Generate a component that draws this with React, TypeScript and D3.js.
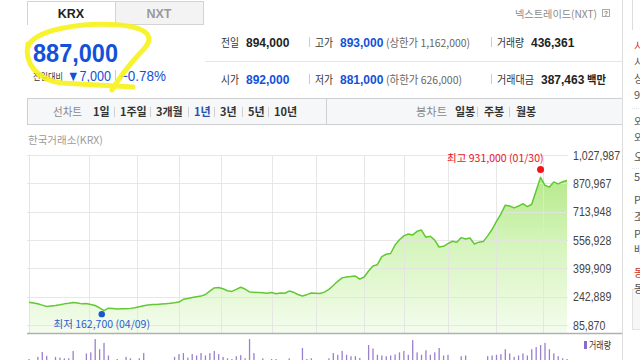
import React from "react";
import * as d3 from "d3";

// ---------- data ----------
// Closing prices (thousand KRW), one reading every 2 trading days, 1-year chart
const closeK = [
  212, 208, 204, 196, 188, 191, 194, 198, 203, 206,
  210, 208, 203, 205, 200, 194, 181, 166, 179, 177,
  175, 176, 176, 178, 181, 187, 192, 197, 199, 200,
  202, 204, 206, 209, 213, 228, 233, 238, 243, 246,
  255, 274, 291, 294, 287, 276, 272, 283, 295, 285,
  269, 267, 266, 264, 262, 266, 259, 263, 262, 274,
  267, 255, 247, 254, 263, 262, 260, 268, 283, 305,
  328, 347, 352, 354, 357, 340, 352, 385, 413, 420,
  465, 478, 482, 529, 558, 580, 590, 585, 605, 612,
  572, 578, 556, 518, 522, 537, 550, 545, 570, 562,
  568, 535, 545, 548, 580, 615, 660, 700, 750, 745,
  735, 745, 758, 742, 755, 830, 904, 860, 850, 878,
  868, 880, 887,
];
// Volume (10k shares), same sampling
const volume = [
  600, 560, 660, 800, 690, 560, 660, 640, 620, 620,
  830, 540, 540, 760, 790, 1170, 880, 1060, 700, 560,
  600, 560, 660, 620, 560, 620, 770, 560, 540, 540,
  540, 540, 560, 660, 740, 770, 640, 740, 700, 770,
  700, 770, 830, 740, 660, 620, 600, 680, 710, 620,
  1170, 770, 560, 620, 560, 600, 600, 560, 540, 620,
  540, 560, 915, 600, 620, 560, 560, 540, 620, 770,
  720, 830, 720, 680, 680, 630, 560, 1000, 900, 720,
  700, 680, 700, 730, 790, 830, 720, 1140, 790, 720,
  850, 720, 790, 915, 700, 720, 560, 540, 680, 700,
  560, 540, 540, 540, 680, 700, 720, 740, 880, 760,
  660, 700, 760, 700, 880, 940, 1000, 1060, 880, 760,
  680, 620, 600,
];
const SAMPLE_STEP = 2; // trading days between readings
const TOTAL_DAYS = 245;
// trading-day index where each month begins (grid lines)
const monthLabels = ["2025-04", "2025-05", "2025-06", "2025-07", "2025-08", "2025-09", "2025-10", "2025-11", "2025-12", "2026-01", "2026-02"];
const monthStartDay = [27, 49, 68, 87, 110, 130, 152, 170, 190, 212, 233];
const yTickValues = [85870, 242889, 399909, 556928, 713948, 870967, 1027987];
const yDomain = [85870, 1027987];

const lowPoint = { day: 33, value: 162700, date: "04/09" };
const highPoint = { day: 232, value: 931000, date: "01/30" };

const navLeft = ["1일", "1주일", "3개월", "1년", "3년", "5년", "10년"];
const navLeftX = [93, 120, 156, 194, 220, 248, 274];
const navRight = ["일봉", "주봉", "월봉"];
const navRightX = [455, 484, 516];

const sideChars = [
  { y: 50, t: "시", c: "#d0322b" },
  { y: 66, t: "시" },
  { y: 83, t: "상" },
  { y: 99, t: "9" },
  { y: 126, t: "외" },
  { y: 142, t: "외" },
  { y: 161, t: "오" },
  { y: 181, t: "5" },
  { y: 204, t: "P" },
  { y: 221, t: "조" },
  { y: 238, t: "P" },
  { y: 254, t: "배" },
  { y: 277, t: "동", c: "#d0322b" },
  { y: 293, t: "동" },
];

const LATIN = "'Liberation Sans', Arial, 'Noto Sans CJK KR', sans-serif";
const KR = "'Noto Sans CJK KR', 'Liberation Sans', sans-serif";
const BLUE = "#1351d8";

export default function App() {
  const x = d3.scaleLinear().domain([0, TOTAL_DAYS - 1]).range([29, 567]);
  const y = d3.scaleLinear().domain(yDomain).range([325, 155]);
  const yVol = d3.scaleLinear().domain([0, 1200]).range([380, 338]);
  const fmt = d3.format(",");
  const labelLen = (s: string) =>
    s.split("").reduce((a, ch) => a + (ch === "," ? 2.9 : 5.9), 0);

  const pts = closeK.map((c, k) => ({ day: k * SAMPLE_STEP, v: c * 1000 }));
  const line = d3.line<{ day: number; v: number }>().x((d) => x(d.day)).y((d) => y(d.v));
  const area = d3
    .area<{ day: number; v: number }>()
    .x((d) => x(d.day))
    .y0(333)
    .y1((d) => y(d.v));

  const lowX = x(lowPoint.day);
  const highX = x(highPoint.day);

  return (
    <svg
      width={640}
      height={360}
      viewBox="0 0 640 360"
      style={{ position: "fixed", left: 0, top: 0, background: "#fff" }}
    >
      <defs>
        <linearGradient id="gfill" gradientUnits="userSpaceOnUse" x1="0" y1="160" x2="0" y2="333">
          <stop offset="0" stopColor="#aee67f" />
          <stop offset="0.5" stopColor="#d6f5bd" />
          <stop offset="1" stopColor="#f4fcee" />
        </linearGradient>
        <clipPath id="clipAll">
          <rect x="0" y="0" width="640" height="360" />
        </clipPath>
      </defs>
      <rect x="0" y="0" width="640" height="360" fill="#fff" />

      {/* Tabs */}
      <rect x="115.5" y="1.5" width="88" height="23" fill="#f3f3f3" stroke="#d3d3d3" />
      <path d="M27.5 25 V1.5 H115.5 V25" fill="#fff" stroke="#d3d3d3" />
      <text x="71" y="17.5" textAnchor="middle" fontFamily={LATIN} fontWeight="bold" fontSize="12.5" fill="#222">KRX</text>
      <text x="159" y="17.5" textAnchor="middle" fontFamily={LATIN} fontWeight="bold" fontSize="12.5" fill="#9a9a9a">NXT</text>

      {/* Price */}
      <text x="33" y="62" fontFamily={LATIN} fontWeight="bold" fontSize="26" fill={BLUE} textLength="85" lengthAdjust="spacingAndGlyphs">887,000</text>
      <text x="33" y="80" fontFamily={KR} fontSize="9.5" fill="#333" textLength="30" lengthAdjust="spacingAndGlyphs">전일대비</text>
      <text x="67" y="81" fontFamily={LATIN} fontSize="14.5" fill={BLUE} textLength="44" lengthAdjust="spacingAndGlyphs">▼7,000</text>
      <line x1="115.5" y1="70" x2="115.5" y2="80" stroke="#ccc" />
      <text x="120" y="81" fontFamily={LATIN} fontSize="14.5" fill={BLUE} textLength="46" lengthAdjust="spacingAndGlyphs">−0.78%</text>

      {/* yellow highlighter */}
      <path
        d="M28 47 C33 30, 80 22, 120 25 C150 28, 156 38, 141 52 C129 65, 119 78, 112 90 M28 44 C24 62, 36 80, 62 83 L133 87"
        fill="none"
        stroke="#f7f21a"
        strokeWidth="5"
        strokeLinecap="round"
        strokeLinejoin="round"
        opacity="0.9"
      />

      {/* NXT note */}
      <text x="515" y="18" fontFamily={KR} fontSize="10.5" fill="#8a8a8a" textLength="82" lengthAdjust="spacingAndGlyphs">넥스트레이드(NXT)</text>
      <rect x="602.5" y="9.5" width="7" height="7" fill="#fff" stroke="#aaa" />
      <text x="606" y="15.5" textAnchor="middle" fontFamily={LATIN} fontSize="7" fontWeight="bold" fill="#888">?</text>

      {/* Info table */}
      <line x1="205" y1="61.5" x2="622" y2="61.5" stroke="#e6e6e6" />
      {[
        { yy: 47, l1: "전일", v1: "894,000", c1: "#222", l2: "고가", v2: "893,000", p: "(상한가 1,162,000)", l3: "거래량", v3: "436,361", unit: "" },
        { yy: 84, l1: "시가", v1: "892,000", c1: BLUE, l2: "저가", v2: "881,000", p: "(하한가 626,000)", l3: "거래대금", v3: "387,463", unit: "백만" },
      ].map((r, i) => (
        <g key={i}>
          <text x="221" y={r.yy} fontFamily={KR} fontSize="11.5" fill="#333" textLength="18" lengthAdjust="spacingAndGlyphs">{r.l1}</text>
          <text x="246" y={r.yy} fontFamily={LATIN} fontWeight="bold" fontSize="12" fill={r.c1}>{r.v1}</text>
          <line x1="309.5" y1={r.yy - 10} x2="309.5" y2={r.yy} stroke="#ccc" />
          <text x="315" y={r.yy} fontFamily={KR} fontSize="11.5" fill="#333" textLength="18" lengthAdjust="spacingAndGlyphs">{r.l2}</text>
          <text x="340" y={r.yy} fontFamily={LATIN} fontWeight="bold" fontSize="12" fill={BLUE}>{r.v2}</text>
          <text x="386" y={r.yy} fontFamily={KR} fontSize="11" fill="#666" textLength={i === 0 ? 84 : 76} lengthAdjust="spacingAndGlyphs">{r.p}</text>
          <line x1="491.5" y1={r.yy - 10} x2="491.5" y2={r.yy} stroke="#ccc" />
          <text x="497" y={r.yy} fontFamily={KR} fontSize="11.5" fill="#333" textLength={i === 0 ? 27 : 37} lengthAdjust="spacingAndGlyphs">{r.l3}</text>
          <text x={i === 0 ? 531 : 541} y={r.yy} fontFamily={LATIN} fontWeight="bold" fontSize="12" fill="#222">{r.v3}</text>
          {r.unit && (
            <text x="587" y={r.yy} fontFamily={KR} fontWeight="bold" fontSize="11" fill="#222" textLength="19" lengthAdjust="spacingAndGlyphs">{r.unit}</text>
          )}
        </g>
      ))}

      {/* Nav bar */}
      <rect x="27.5" y="98.5" width="595" height="26" fill="#f6f7f8" stroke="#cfcfcf" />
      <line x1="326.5" y1="98.5" x2="326.5" y2="124.5" stroke="#cfcfcf" />
      <text x="53" y="116" fontFamily={KR} fontSize="11" fill="#888" textLength="29" lengthAdjust="spacingAndGlyphs">선차트</text>
      {navLeft.map((t, i) => (
        <g key={t}>
          <text x={navLeftX[i]} y="116" fontFamily={KR} fontSize="11" fontWeight="bold" fill={t === "1년" ? "#2a4fb0" : "#333"}>{t}</text>
          {i > 0 && <line x1={navLeftX[i] - 5.5} y1="107" x2={navLeftX[i] - 5.5} y2="117" stroke="#d0d0d0" />}
        </g>
      ))}
      <text x="416" y="116" fontFamily={KR} fontSize="11" fill="#888" textLength="31" lengthAdjust="spacingAndGlyphs">봉차트</text>
      {navRight.map((t, i) => (
        <g key={t}>
          <text x={navRightX[i]} y="116" fontFamily={KR} fontSize="11" fontWeight="bold" fill="#333">{t}</text>
          {i > 0 && <line x1={navRightX[i] - 6.5} y1="107" x2={navRightX[i] - 6.5} y2="117" stroke="#d0d0d0" />}
        </g>
      ))}

      <text x="28" y="144" fontFamily={KR} fontSize="10.5" fill="#9a9a9a">한국거래소(KRX)</text>

      {/* Area + line */}
      <path d={area(pts) || ""} fill="url(#gfill)" />

      {/* grid */}
      {yTickValues.map((v) => (
        <line key={v} x1="27" x2="568" y1={Math.round(y(v)) + 0.5} y2={Math.round(y(v)) + 0.5} stroke="#e3e3e3" strokeOpacity="0.85" />
      ))}
      <line x1="29.5" x2="29.5" y1="155" y2="333" stroke="#e3e3e3" />
      {monthStartDay.map((d, i) => (
        <line key={monthLabels[i]} x1={Math.round(x(d)) + 0.5} x2={Math.round(x(d)) + 0.5} y1="155" y2="333" stroke="#e3e3e3" strokeOpacity="0.85" />
      ))}

      <path d={line(pts) || ""} fill="none" stroke="#62c834" strokeWidth="1.5" strokeLinejoin="round" />

      {/* y labels */}
      {yTickValues.map((v) => (
        <text key={v} x="573" y={y(v) + 4.5} fontFamily={LATIN} fontSize="12" fill="#444" textLength={labelLen(fmt(v))} lengthAdjust="spacingAndGlyphs">{fmt(v)}</text>
      ))}

      {/* high / low */}
      <circle cx={highX} cy={y(highPoint.value) - 3} r="3.5" fill="#f0141e" />
      <text x={highX + 3} y="162" textAnchor="end" fontFamily={KR} fontSize="10.5" fill="#e8141e">{`최고 ${fmt(highPoint.value)} (${highPoint.date})`}</text>
      <circle cx={lowX} cy={y(lowPoint.value) + 3} r="3.2" fill="#1b55d0" />
      <text x={lowX} y="328" textAnchor="middle" fontFamily={KR} fontSize="10.5" fill="#2a5ed0">{`최저 ${fmt(lowPoint.value)} (${lowPoint.date})`}</text>

      {/* bottom border of price chart */}
      <line x1="27" x2="622" y1="333.5" y2="333.5" stroke="#b0b0b0" strokeWidth="1.5" />

      {/* Volume */}
      <g clipPath="url(#clipAll)">
        {volume.map((v, k) => (
          <rect key={k} x={x(k * SAMPLE_STEP) - 0.6} y={yVol(v)} width="1.3" height={380 - yVol(v)} fill="#9a80d0" />
        ))}
      </g>
      <rect x="584" y="341" width="3" height="8" fill="#8a6cc8" />
      <text x="589" y="349" fontFamily={KR} fontSize="10" fill="#333" textLength="22" lengthAdjust="spacingAndGlyphs">거래량</text>

      {/* right border + sidebar fragments */}
      <line x1="622.5" x2="622.5" y1="0" y2="360" stroke="#dcdcdc" />
      <line x1="632.5" x2="632.5" y1="0" y2="30" stroke="#dcdcdc" />
      <line x1="632" x2="640" y1="108.5" y2="108.5" stroke="#e3e3e3" strokeDasharray="1 1" />
      <line x1="632" x2="640" y1="168.5" y2="168.5" stroke="#e3e3e3" strokeDasharray="1 1" />
      <line x1="632" x2="640" y1="212.5" y2="212.5" stroke="#e3e3e3" strokeDasharray="1 1" />
      <rect x="632.5" y="289.5" width="10" height="40" fill="#f7f7f7" stroke="#e3e3e3" />
      {sideChars.map((s, i) => (
        <text key={i} x="634" y={s.y} fontFamily={KR} fontSize="11" fill={s.c || "#555"}>{s.t}</text>
      ))}
    </svg>
  );
}
